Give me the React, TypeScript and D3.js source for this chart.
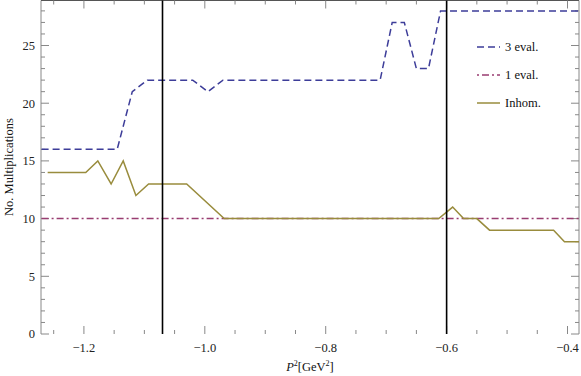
import React from 'react';
import * as d3 from 'd3';

const width = 581;
const height = 376;

// 3 eval.
const evalX3 = [-1.27, -1.145, -1.12, -1.095, -1.02, -0.995, -0.97, -0.71, -0.69, -0.67, -0.65, -0.63, -0.61, -0.381];
const evalY3 = [16, 16, 21, 22, 22, 21, 22, 22, 27, 27, 23, 23, 28, 28];
// 1 eval.
const evalX1 = [-1.27, -0.381];
const evalY1 = [10, 10];
// Inhom.
const inhomX = [-1.26, -1.197, -1.177, -1.155, -1.135, -1.114, -1.093, -1.03, -0.968, -0.613, -0.59, -0.572, -0.55, -0.529, -0.423, -0.405, -0.381];
const inhomY = [14, 14, 15, 13, 15, 12, 13, 13, 10, 10, 11, 10, 10, 9, 9, 8, 8];
// vertical markers
const markers = [-1.07, -0.6];

const xTicks = [-1.2, -1.0, -0.8, -0.6, -0.4];
const xTickLabels = ['\u22121.2', '\u22121.0', '\u22120.8', '\u22120.6', '\u22120.4'];
const yTicks = [0, 5, 10, 15, 20, 25];

const blue = '#3d3d99';
const pink = '#993d71';
const gold = '#998c3d';
const frame = '#888';
const font = "'Liberation Serif', Tinos, 'Times New Roman', 'DejaVu Serif', serif";

export default function App() {
  const margin = { left: 41, right: 2, top: 0.5, bottom: 42 };
  const x = d3.scaleLinear().domain([-1.271, -0.381]).range([margin.left, width - margin.right]);
  const y = d3.scaleLinear().domain([0, 28.9]).range([height - margin.bottom, margin.top]);
  const x0 = x.range()[0];
  const x1 = x.range()[1];
  const y0 = y.range()[0];
  const y1 = y.range()[1];

  const line = d3
    .line<[number, number]>()
    .x((d) => x(d[0]))
    .y((d) => y(d[1]));
  const pts = (xs: number[], ys: number[]) => xs.map((v, i) => [v, ys[i]] as [number, number]);

  const xMinor = d3.range(-1.25, -0.38, 0.05).filter((v) => !xTicks.some((t) => Math.abs(t - v) < 1e-6));
  const yMinor = d3.range(0, 29, 1).filter((v) => v % 5 !== 0);

  const legend = [
    { label: '3 eval.', color: blue, dash: '7,4' },
    { label: '1 eval.', color: pink, dash: '2,3,7,3' },
    { label: 'Inhom.', color: gold, dash: null },
  ];

  return (
    <div style={{ position: 'fixed', left: 0, top: 0 }}>
      <svg width={width} height={height} style={{ display: 'block', fontFamily: font }}>
        <rect width={width} height={height} fill="#fff" />
        {/* frame */}
        <line x1={x0} x2={x0} y1={y1} y2={y0} stroke={frame} />
        <line x1={x1} x2={x1} y1={y1} y2={y0} stroke={frame} />
        <line x1={x0} x2={x1} y1={y1} y2={y1} stroke="#555" />

        {/* x ticks, bottom and top */}
        {xTicks.map((t) => (
          <g key={'xt' + t}>
            <line x1={x(t)} x2={x(t)} y1={y0} y2={y0 - 8} stroke={frame} />
            <line x1={x(t)} x2={x(t)} y1={y1} y2={y1 + 8} stroke={frame} />
          </g>
        ))}
        {xMinor.map((t) => (
          <g key={'xm' + t}>
            <line x1={x(t)} x2={x(t)} y1={y0} y2={y0 - 4} stroke={frame} />
            <line x1={x(t)} x2={x(t)} y1={y1} y2={y1 + 4} stroke={frame} />
          </g>
        ))}
        {xTicks.map((t, i) => (
          <text key={'xl' + t} x={x(t)} y={352} textAnchor="middle" fontSize={12.5} fill="#222">
            {xTickLabels[i]}
          </text>
        ))}

        {/* y ticks, left and right */}
        {yTicks.map((t) => (
          <g key={'yt' + t}>
            <line x1={x0} x2={x0 + 8} y1={y(t)} y2={y(t)} stroke={frame} />
            <line x1={x1} x2={x1 - 8} y1={y(t)} y2={y(t)} stroke={frame} />
            <text x={35} y={y(t)} dy="0.35em" textAnchor="end" fontSize={12.5} fill="#222">
              {t}
            </text>
          </g>
        ))}
        {yMinor.map((t) => (
          <g key={'ym' + t}>
            <line x1={x0} x2={x0 + 4} y1={y(t)} y2={y(t)} stroke={frame} />
            <line x1={x1} x2={x1 - 4} y1={y(t)} y2={y(t)} stroke={frame} />
          </g>
        ))}

        {/* series */}
        <path d={line(pts(evalX1, evalY1)) || ''} fill="none" stroke={pink} strokeWidth={1.5} strokeDasharray="7,3,2,3" />
        <path d={line(pts(inhomX, inhomY)) || ''} fill="none" stroke={gold} strokeWidth={1.5} />
        <path d={line(pts(evalX3, evalY3)) || ''} fill="none" stroke={blue} strokeWidth={1.5} strokeDasharray="7,4" />

        {markers.map((m) => (
          <line key={'mk' + m} x1={x(m)} x2={x(m)} y1={y1} y2={y0} stroke="#000" strokeWidth={1.6} />
        ))}

        {/* legend */}
        {legend.map((l, i) => (
          <g key={l.label} transform={`translate(477,${47 + i * 28})`}>
            <line x1={0} x2={23} y1={0} y2={0} stroke={l.color} strokeWidth={1.5} strokeDasharray={l.dash || undefined} />
            <text x={28} y={0} dy="0.35em" fontSize={12.5} fill="#111">
              {l.label}
            </text>
          </g>
        ))}

        {/* axis labels */}
        <text x={310} y={371} textAnchor="middle" fontSize={12.5} fill="#111">
          <tspan fontStyle="italic">P</tspan>
          <tspan dy={-5} fontSize={8}>2</tspan>
          <tspan dy={5}>[GeV</tspan>
          <tspan dy={-5} fontSize={8}>2</tspan>
          <tspan dy={5}>]</tspan>
        </text>
        <text transform="translate(13,167) rotate(-90)" textAnchor="middle" fontSize={12.5} fill="#111">
          No. Multiplications
        </text>
      </svg>
    </div>
  );
}
